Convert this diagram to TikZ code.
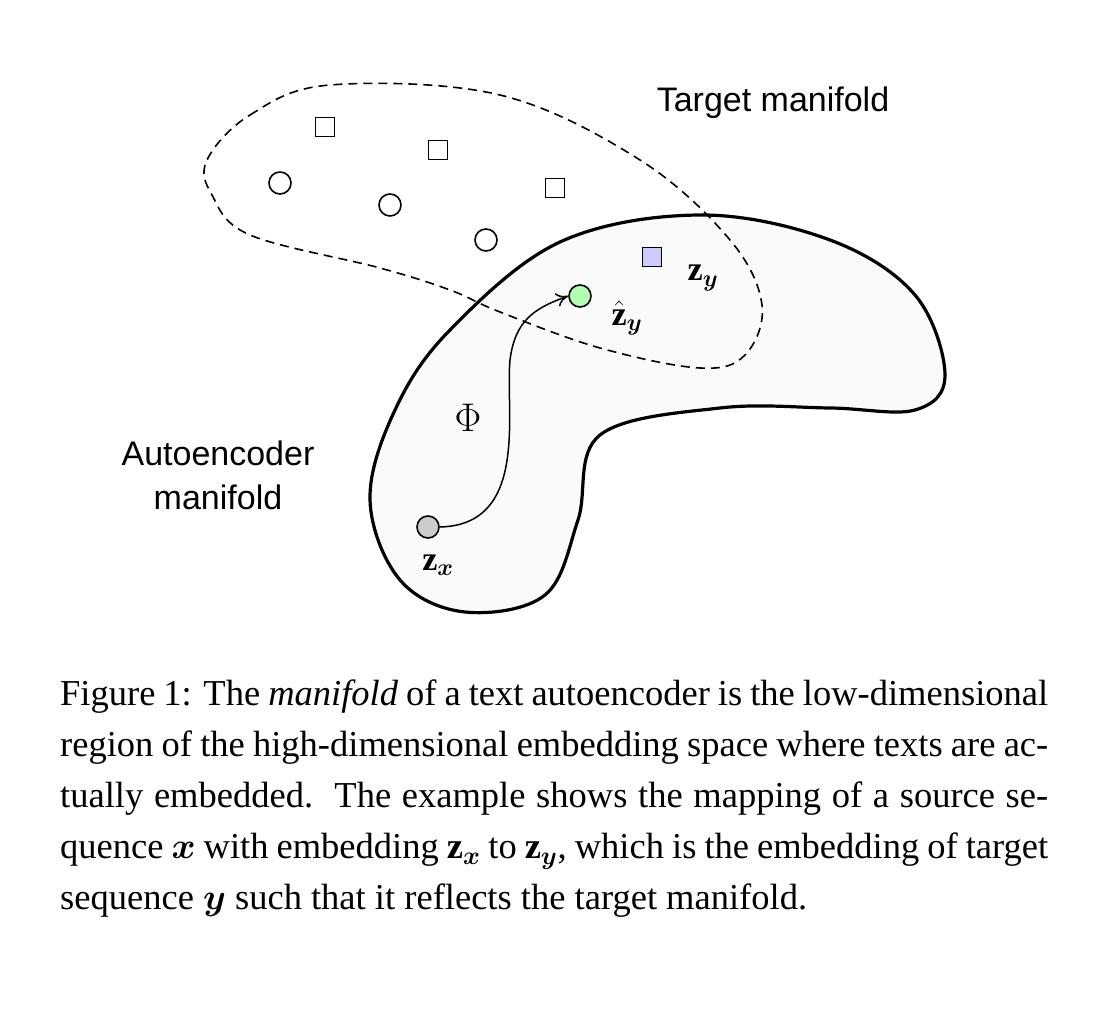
\RequirePackage{fix-cm}
\documentclass[tikz,border=0pt]{standalone}
\usepackage{amsmath,amssymb,bm}
\usepackage{fontspec}
\setmainfont{Liberation Serif}
\setsansfont{Liberation Sans}
\usetikzlibrary{arrows.meta}
\tikzset{pt/.style={circle, draw, line width=1.6pt, minimum size=22pt, inner sep=0pt},
         sq/.style={rectangle, draw, line width=1.6pt, minimum size=19pt, inner sep=0pt},
         lbl/.style={font=\fontsize{34}{40}\selectfont}}

\begin{document}
\begin{tikzpicture}[x=1pt,y=1pt]
        \useasboundingbox (0,0) rectangle (1100,1020);

        % autoencoder manifold
        \draw[line width=3.2pt, fill=gray!4] plot[smooth cycle, tension=0.6] coordinates
            {(560,778) (700,805) (830,780) (915,725) (945,645) (915,610) (830,612) (720,612)
             (600,585) (578,500) (545,425) (465,408) (400,440) (370,520) (395,610) (450,690)};

        % target manifold
        \draw[dashed, line width=1.6pt, dash pattern=on 9pt off 6pt] plot[smooth cycle, tension=0.6] coordinates
            {(207,860) (250,905) (330,935) (500,925) (640,860) (730,780) (762,715) (745,665)
             (700,652) (600,672) (500,708) (450,730) (380,752) (250,785) (212,825)};

        % samples
        \node[pt] (c1) at (280,837) {};
        \node[pt] (c2) at (390,815) {};
        \node[pt] (c3) at (486,780) {};
        \node[sq] (s1) at (325,893) {};
        \node[sq] (s2) at (438,870) {};
        \node[sq] (s3) at (555,832) {};
        \node[sq, fill=blue!20] (zy) at (652,763) {};
        \node[pt, fill=green!30] (zhat) at (580,724) {};
        \node[pt, fill=gray!40] (zx) at (428,493) {};

        \node[lbl] (zylbl) at (703,742) {$\mathbf{z}_{\bm{y}}$};
        \node[lbl] (zhatlbl) at (627,702) {$\hat{\mathbf{z}}_{\bm{y}}$};
        \node[lbl] (zxlbl) at (438,455) {$\mathbf{z}_{\bm{x}}$};
        \node[font=\fontsize{40}{46}\selectfont] (phi) at (468,602) {$\Phi$};

        \draw[-{To[length=12pt,width=14pt]}, line width=1.5pt] (zx.east)
            .. controls (530,495) and (505,610) .. (510,660)
            .. controls (515,700) and (535,712) .. (zhat.west);

        \node[lbl, font=\sffamily\fontsize{34}{40}\selectfont] (tgt) at (773,917) {Target manifold};
        \node[lbl, font=\sffamily\fontsize{34}{44}\selectfont, align=center] (ae) at (218,545) {Autoencoder\\manifold};

        % caption
        \node[anchor=north west, inner sep=0pt, text width=988pt, align=justify,
              font=\fontsize{36.5}{51}\selectfont] (cap) at (60,340)
            {Figure 1: The \textit{manifold} of a text autoencoder is the low-dimensional region of the high-dimensional embedding space where texts are actually embedded.\ \ The example shows the mapping of a source sequence $\bm{x}$ with embedding $\mathbf{z}_{\bm{x}}$ to $\mathbf{z}_{\bm{y}}$, which is the embedding of target sequence $\bm{y}$ such that it reflects the target manifold.};
\end{tikzpicture}
\end{document}
